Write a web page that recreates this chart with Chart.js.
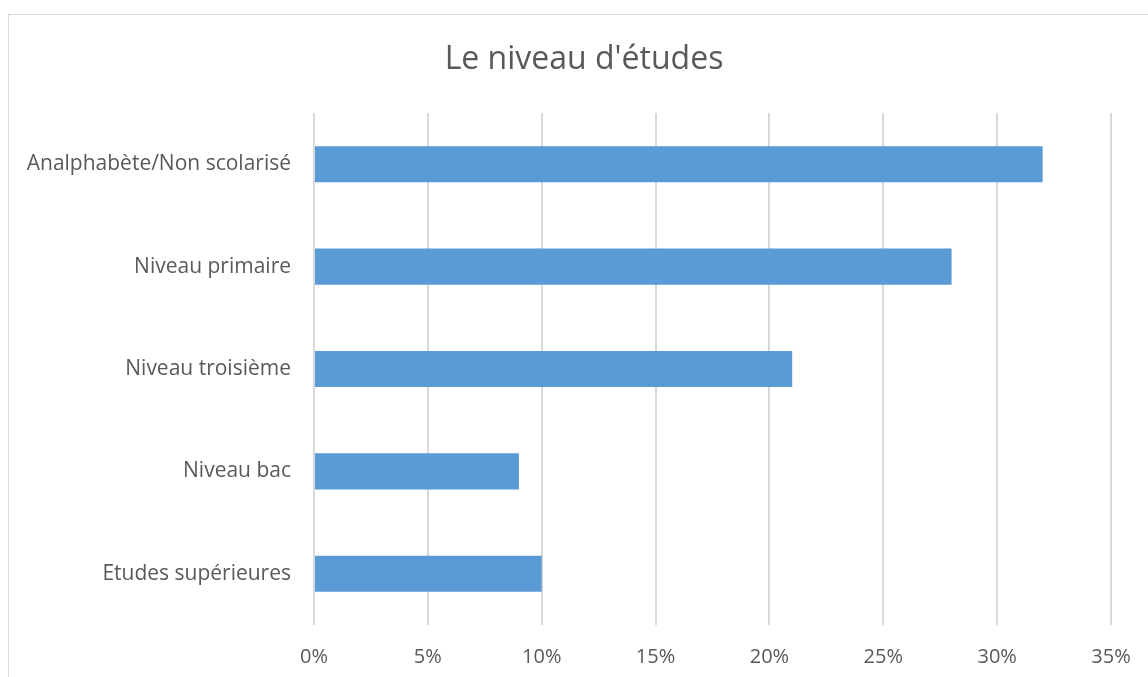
<!DOCTYPE html>
<html>
<head>
<meta charset="utf-8">
<script src="https://cdn.jsdelivr.net/npm/chart.js@4/dist/chart.umd.min.js"></script>
<style>
  html, body { margin: 0; padding: 0; background: #fff; overflow: hidden; }
  #wrap { position: relative; width: 1148px; height: 677px; }
  #frame { position: absolute; left: 8px; top: 14px; width: 1200px; height: 700px; border: 1px solid #d9d9d9; box-sizing: border-box; }
  canvas { position: absolute; left: 0; top: 0; }
</style>
</head>
<body>
<div id="wrap">
  <div id="frame"></div>
  <canvas id="chart" width="1148" height="677"></canvas>
</div>
<script>
const categories = ['Analphabète/Non scolarisé', 'Niveau primaire', 'Niveau troisième', 'Niveau bac', 'Etudes supérieures'];
const values = [32, 28, 21, 9, 10];
const tickMax = 35;
const tickStep = 5;
const titleText = "Le niveau d'études";

const font = '"Open Sans", "Liberation Sans", sans-serif';
const textColor = '#595959';
const gridColor = '#d9d9d9';

// title is centred on the outer frame, not on the canvas, so draw it ourselves
const frameTitle = {
  id: 'frameTitle',
  afterDraw(chart) {
    const ctx = chart.ctx;
    ctx.save();
    ctx.font = '32px ' + font;
    ctx.fillStyle = textColor;
    ctx.textAlign = 'center';
    ctx.textBaseline = 'middle';
    ctx.fillText(titleText, 584, 60);
    ctx.restore();
  }
};

new Chart(document.getElementById('chart'), {
  type: 'bar',
  data: {
    labels: categories,
    datasets: [{
      data: values,
      backgroundColor: '#5b9bd5',
      barPercentage: 0.353,
      categoryPercentage: 1
    }]
  },
  options: {
    indexAxis: 'y',
    responsive: false,
    animation: false,
    layout: { padding: { left: 0, right: 37, top: 113, bottom: 0 } },
    plugins: {
      legend: { display: false },
      tooltip: { enabled: false },
      title: { display: false }
    },
    scales: {
      x: {
        min: 0,
        max: tickMax,
        ticks: {
          stepSize: tickStep,
          color: textColor,
          font: { family: font, size: 20 },
          padding: 20,
          callback: v => v + '%'
        },
        grid: { color: gridColor, lineWidth: 2, drawTicks: false },
        border: { display: false },
        afterFit: s => { s.height = 52; s.paddingLeft = 0; s.paddingRight = 0; }
      },
      y: {
        ticks: {
          color: textColor,
          font: { family: font, size: 21 },
          padding: 23
        },
        grid: { display: false, drawTicks: false },
        border: { display: false },
        afterFit: s => { s.width = 314; }
      }
    }
  },
  plugins: [frameTitle]
});
</script>
</body>
</html>
